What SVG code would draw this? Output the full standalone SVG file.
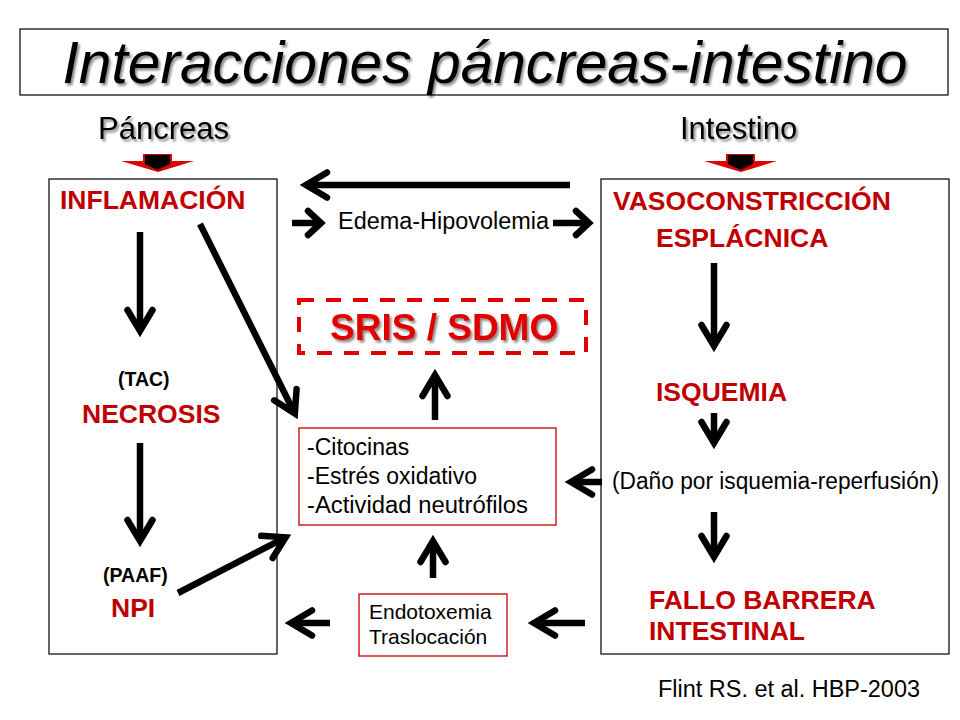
<svg xmlns="http://www.w3.org/2000/svg" width="960" height="720" viewBox="0 0 960 720">
<defs>
<style>
text{font-family:"Liberation Sans",Arial,sans-serif;}
.b{font-weight:bold;}
.red{fill:#c00000;font-weight:bold;font-size:26.5px;}
.par{font-weight:bold;font-size:19.5px;fill:#000;}
.reg{font-size:23px;fill:#000;}
.sm{font-size:21px;fill:#000;}
.panel{fill:none;stroke:#000;stroke-width:1.2;}
.rbox{fill:#fff;stroke:#c00000;stroke-width:1.3;}
.conn{fill:none;stroke:#000;stroke-width:6.5;}
.sh{filter:url(#shadow);}
</style>
<filter id="shadow" x="-10%" y="-30%" width="120%" height="160%">
<feDropShadow dx="2" dy="2.5" stdDeviation="1.2" flood-color="#000" flood-opacity="0.45"/>
</filter>
<marker id="ah" markerUnits="userSpaceOnUse" orient="auto" refX="0" refY="0" markerWidth="30" markerHeight="30" overflow="visible">
<path d="M -21 -12.5 L 0 0 L -21 12.5" fill="none" stroke="#000" stroke-width="6.5" stroke-linecap="round" stroke-linejoin="miter"/>
</marker>
<marker id="ahs" markerUnits="userSpaceOnUse" orient="auto" refX="0" refY="0" markerWidth="30" markerHeight="30" overflow="visible">
<path d="M -13 -12 L 0 0 L -13 12" fill="none" stroke="#000" stroke-width="6.5" stroke-linecap="round" stroke-linejoin="miter"/>
</marker>
</defs>
<rect width="960" height="720" fill="#fff"/>

<g id="title">
<rect x="20" y="29" width="928" height="66" fill="none" stroke="#000" stroke-width="1.2"/>
<text class="sh" x="485" y="83" text-anchor="middle" font-size="58.7" font-style="italic">Interacciones páncreas-intestino</text>
</g>

<g id="label-pancreas">
<text class="sh" x="98" y="139" font-size="31">Páncreas</text>
<polygon points="143,154 172,154 172,161 194,161 158,172 121,161 143,161" fill="#e00000"/>
<polygon points="145,155 170,155 170,164 157.5,170 145,164" fill="#000"/>
</g>

<g id="label-intestino">
<text class="sh" x="680" y="139" font-size="31">Intestino</text>
<polygon points="726,154 755,154 755,161 777,161 741,172 704,161 726,161" fill="#e00000"/>
<polygon points="728,155 753,155 753,164 740.5,170 728,164" fill="#000"/>
</g>

<g id="panel-pancreas">
<rect class="panel" x="49" y="179" width="228" height="475"/>
</g>
<g id="panel-intestino">
<rect class="panel" x="601" y="179" width="348" height="475"/>
</g>

<g id="node-inflamacion"><text class="red" x="60" y="209">INFLAMACIÓN</text></g>
<g id="node-necrosis">
<text class="par" x="118" y="386">(TAC)</text>
<text class="red" x="82" y="423">NECROSIS</text>
</g>
<g id="node-npi">
<text class="par" x="103" y="582">(PAAF)</text>
<text class="red" x="111" y="617">NPI</text>
</g>

<g id="node-vasoconstriccion">
<text class="red" x="613" y="210">VASOCONSTRICCIÓN</text>
<text class="red" x="656" y="247">ESPLÁCNICA</text>
</g>
<g id="node-isquemia"><text class="red" x="656" y="401">ISQUEMIA</text></g>
<g id="node-dano"><text class="reg" x="612" y="489" textLength="327" lengthAdjust="spacingAndGlyphs">(Daño por isquemia-reperfusión)</text></g>
<g id="node-fallo">
<text class="red" x="649" y="609">FALLO BARRERA</text>
<text class="red" x="649" y="640">INTESTINAL</text>
</g>

<g id="node-edema"><text class="reg" x="338" y="229" textLength="211" lengthAdjust="spacingAndGlyphs">Edema-Hipovolemia</text></g>

<g id="node-sris">
<rect x="299" y="300" width="287" height="53" fill="none" stroke="#e00000" stroke-width="4" stroke-dasharray="15 12"/>
<text class="sh b" x="330" y="340" font-size="37" fill="#e00000">SRIS / SDMO</text>
</g>

<g id="node-citocinas">
<rect class="rbox" x="299" y="428" width="257" height="97"/>
<text class="reg" x="307" y="455">-Citocinas</text>
<text class="reg" x="307" y="484">-Estrés oxidativo</text>
<text class="reg" x="307" y="513" textLength="221" lengthAdjust="spacingAndGlyphs">-Actividad neutrófilos</text>
</g>

<g id="node-endotoxemia">
<rect class="rbox" x="359" y="594" width="148" height="62"/>
<text class="sm" x="369" y="619">Endotoxemia</text>
<text class="sm" x="369" y="644">Traslocación</text>
</g>

<g id="connectors">
<line class="conn" x1="140" y1="232" x2="140" y2="331" marker-end="url(#ah)"/>
<line class="conn" x1="200" y1="224" x2="294.8" y2="413.5" marker-end="url(#ah)"/>
<line class="conn" x1="140" y1="443" x2="140" y2="541" marker-end="url(#ah)"/>
<line class="conn" x1="178" y1="593" x2="285.6" y2="537.3" marker-end="url(#ah)"/>
<line class="conn" x1="570" y1="185" x2="306" y2="185" marker-end="url(#ah)"/>
<line class="conn" x1="292" y1="223" x2="321" y2="223" marker-end="url(#ahs)"/>
<line class="conn" x1="553" y1="223" x2="589" y2="223" marker-end="url(#ahs)"/>
<line class="conn" x1="435" y1="420" x2="435" y2="375" marker-end="url(#ah)"/>
<line class="conn" x1="602" y1="482" x2="571" y2="482" marker-end="url(#ah)"/>
<line class="conn" x1="433" y1="578" x2="433" y2="541" marker-end="url(#ah)"/>
<line class="conn" x1="330" y1="623" x2="291" y2="623" marker-end="url(#ah)"/>
<line class="conn" x1="585" y1="623" x2="534" y2="623" marker-end="url(#ah)"/>
<line class="conn" x1="714" y1="263" x2="714" y2="346" marker-end="url(#ah)"/>
<line class="conn" x1="714" y1="413" x2="714" y2="443" marker-end="url(#ah)"/>
<line class="conn" x1="714" y1="512" x2="714" y2="557" marker-end="url(#ah)"/>
</g>

<g id="citation"><text class="reg" x="658" y="697" textLength="262" lengthAdjust="spacingAndGlyphs">Flint RS. et al. HBP-2003</text></g>
</svg>
